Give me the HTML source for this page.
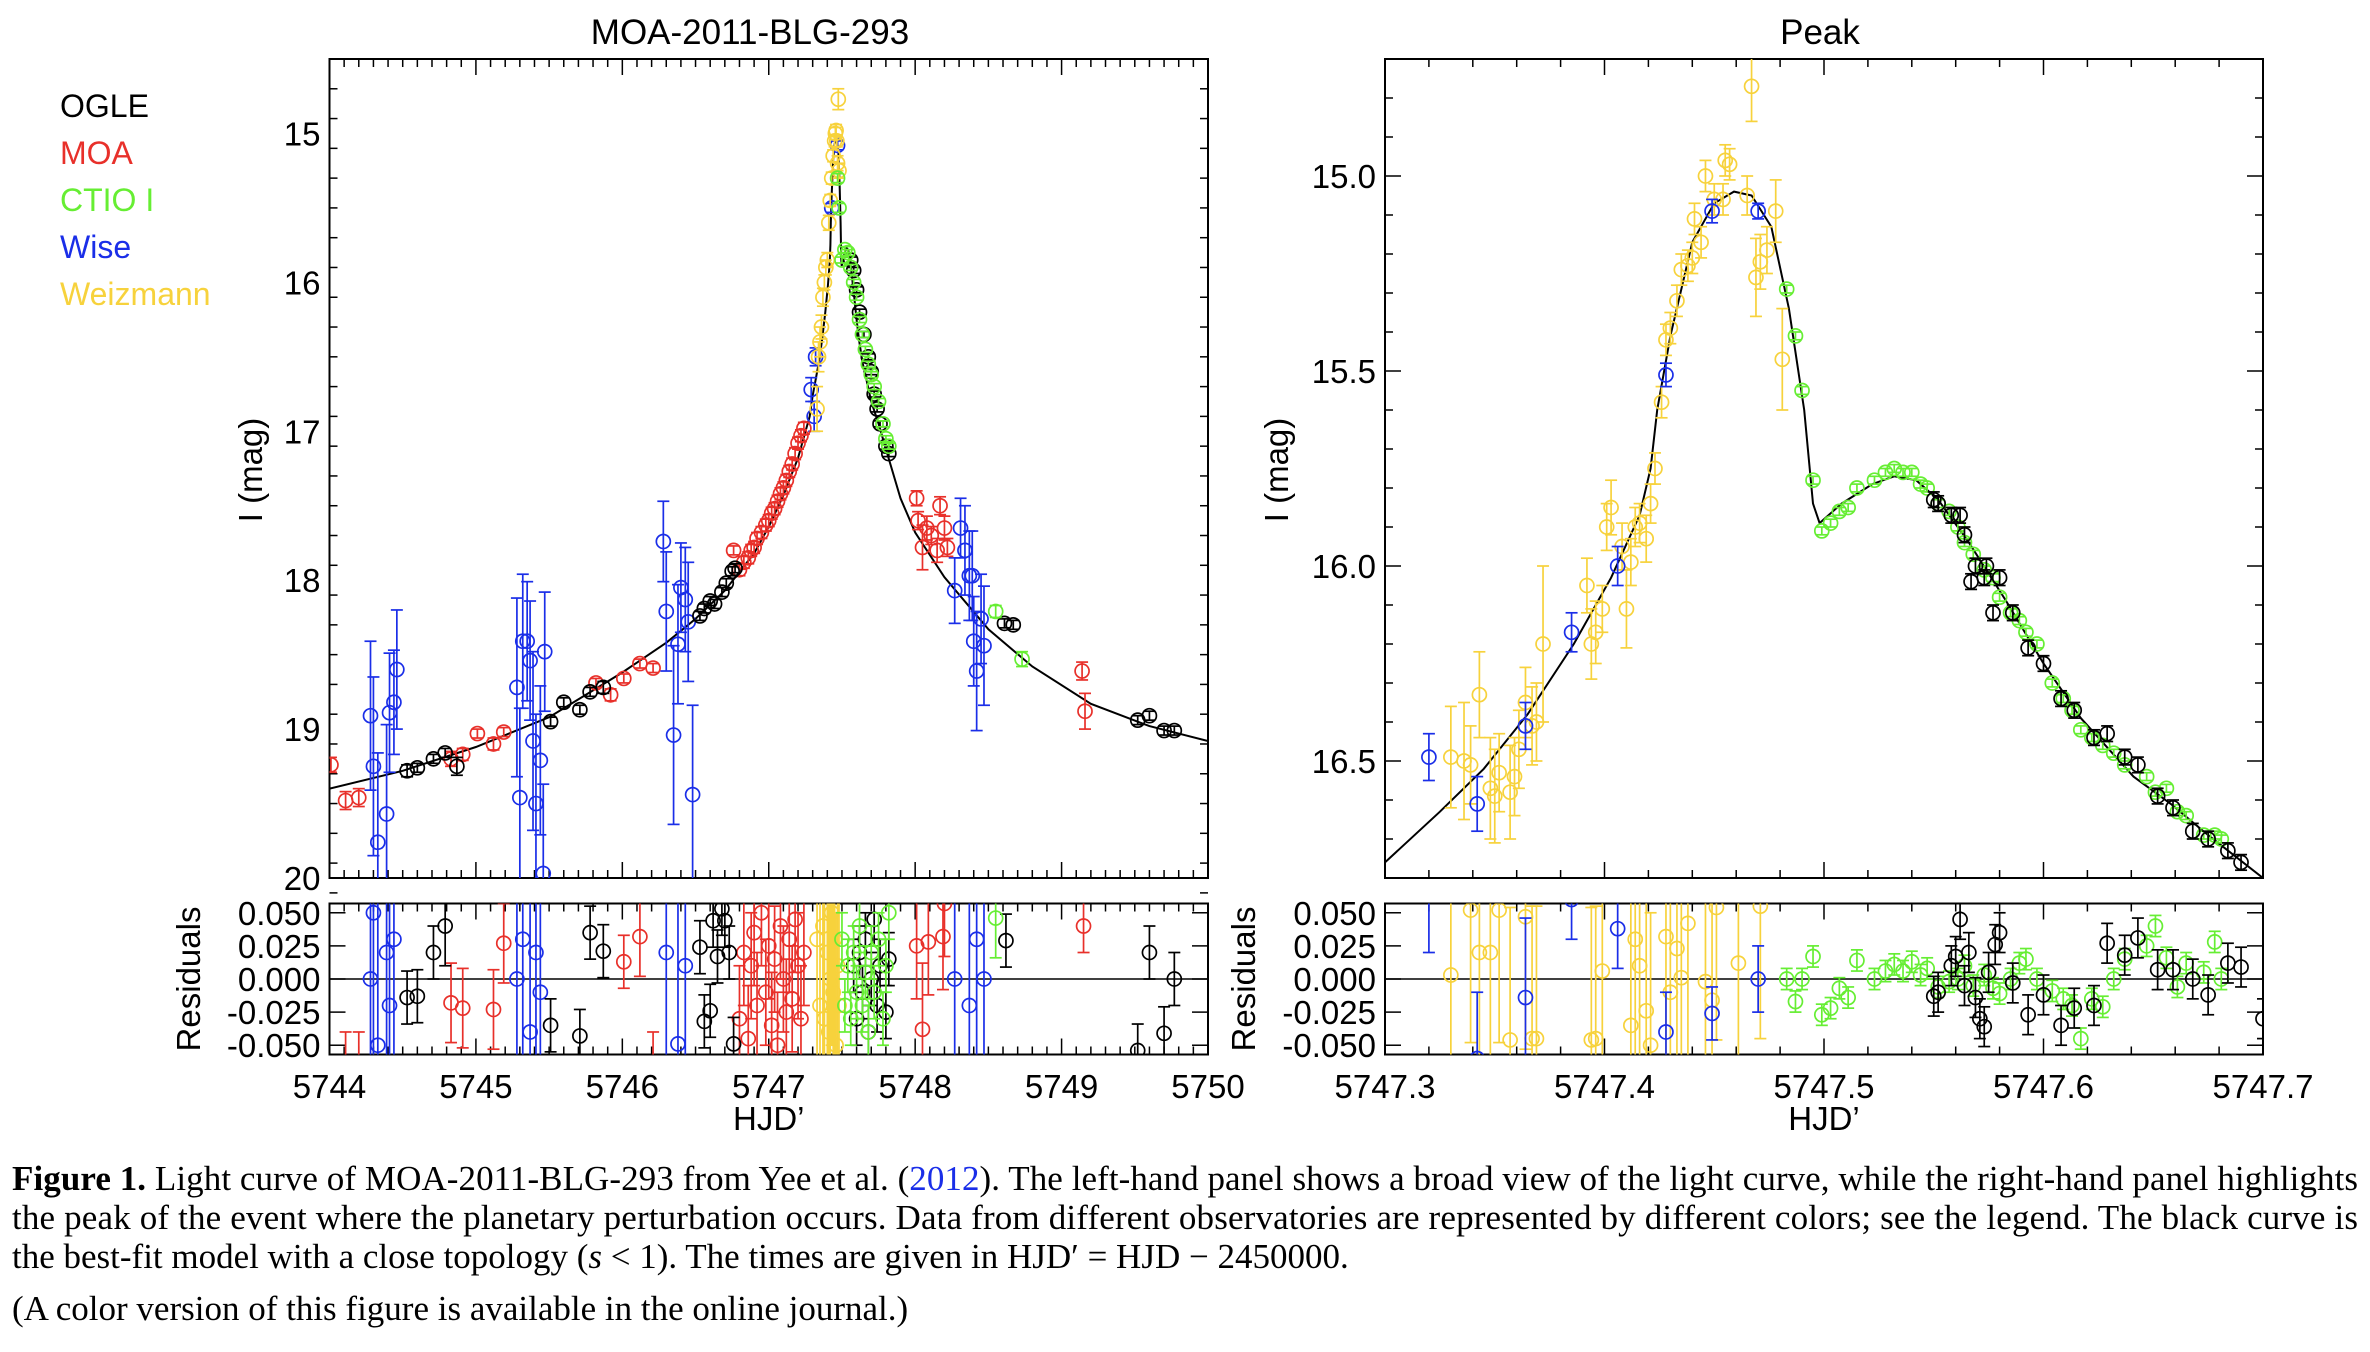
<!DOCTYPE html>
<html><head><meta charset="utf-8"><style>
html,body{margin:0;padding:0;background:#fff;width:2370px;height:1352px;overflow:hidden;}
svg{display:block;font-family:"Liberation Sans",sans-serif;}
</style></head><body>
<svg id="fig" width="2370" height="1352" viewBox="0 0 2370 1352" xmlns="http://www.w3.org/2000/svg">
<defs>
<clipPath id="clipLM"><rect x="329.5" y="59" width="878.5" height="819"/></clipPath>
<clipPath id="clipLR"><rect x="329.5" y="903.5" width="878.5" height="151"/></clipPath>
<clipPath id="clipRM"><rect x="1385" y="59" width="878" height="819"/></clipPath>
<clipPath id="clipRR"><rect x="1385" y="903.5" width="878" height="151"/></clipPath>
</defs>
<g id="legend" font-size="32">
<text x="60" y="117" fill="#000">OGLE</text>
<text x="60" y="164" fill="#e8302a">MOA</text>
<text x="60" y="211" fill="#66ee33">CTIO I</text>
<text x="60" y="258" fill="#1a2ee8">Wise</text>
<text x="60" y="305" fill="#f7d23c">Weizmann</text>
</g>
<text x="750" y="44" font-size="35" text-anchor="middle">MOA-2011-BLG-293</text>
<text x="1820" y="44" font-size="35" text-anchor="middle">Peak</text>
<g id="plots"></g>
<g id="caption" font-family="'Liberation Serif',serif" font-size="35">
<text x="12" y="1190" textLength="2346" lengthAdjust="spacing"><tspan font-weight="bold">Figure 1.</tspan> Light curve of MOA-2011-BLG-293 from Yee et al. (<tspan fill="#1a2ee8">2012</tspan>). The left-hand panel shows a broad view of the light curve, while the right-hand panel highlights</text>
<text x="12" y="1229" textLength="2346" lengthAdjust="spacing">the peak of the event where the planetary perturbation occurs. Data from different observatories are represented by different colors; see the legend. The black curve is</text>
<text x="12" y="1268">the best-fit model with a close topology (<tspan font-style="italic">s</tspan> &lt; 1). The times are given in HJD′ = HJD − 2450000.</text>
<text x="12" y="1320">(A color version of this figure is available in the online journal.)</text>
</g>
</svg>
<script>
const COL = {ogle:"#000000", moa:"#e8302a", ctio:"#66ee33", wise:"#1a2ee8", weiz:"#f7d23c"};
const modelLT = [5744.0,5744.5,5745.0,5745.5,5746.0,5746.3,5746.5,5746.7,5746.9,5747.0,5747.1,5747.2,5747.28];
const modelLM = [19.40,19.28,19.12,18.92,18.62,18.42,18.26,18.07,17.82,17.64,17.43,17.18,16.90];
const modelLT2 = [5747.75,5747.8,5747.9,5748.0,5748.2,5748.5,5748.8,5749.2,5749.6,5750.0];
const modelLM2 = [16.95,17.12,17.45,17.68,17.98,18.33,18.58,18.83,18.98,19.08];
const modelRT = [5747.30,5747.325,5747.345,5747.365,5747.386,5747.403,5747.416,5747.421,5747.424,5747.43,5747.44,5747.45,5747.459,5747.467,5747.476,5747.484,5747.491,5747.495,5747.498,5747.508,5747.522,5747.532,5747.542,5747.552,5747.566,5747.583,5747.60,5747.617,5747.641,5747.658,5747.675,5747.70];
const modelRM = [16.76,16.63,16.52,16.38,16.20,16.03,15.87,15.75,15.60,15.41,15.17,15.07,15.04,15.05,15.13,15.34,15.60,15.84,15.89,15.84,15.79,15.77,15.78,15.83,15.94,16.09,16.25,16.39,16.54,16.61,16.69,16.80];

const ogleL = [[5744.53,19.28,.04],[5744.60,19.26,.03],[5744.71,19.20,.03],[5744.79,19.16,.03],[5744.87,19.25,.06],[5745.51,18.95,.03],[5745.60,18.82,.03],[5745.71,18.87,.03],[5745.78,18.75,.03],[5745.87,18.72,.04],[5746.53,18.24,.03],[5746.56,18.19,.03],[5746.60,18.14,.03],[5746.63,18.16,.03],[5746.68,18.08,.03],[5746.71,18.02,.03],[5746.75,17.94,.03],[5746.77,17.92,.03],[5747.56,15.85,.02],[5747.58,15.92,.02],[5747.60,16.05,.02],[5747.62,16.20,.02],[5747.65,16.35,.02],[5747.68,16.50,.02],[5747.70,16.60,.02],[5747.72,16.75,.02],[5747.74,16.85,.02],[5747.76,16.95,.02],[5747.80,17.10,.02],[5747.82,17.15,.02],[5748.61,18.29,.03],[5748.67,18.30,.03],[5749.52,18.94,.03],[5749.60,18.91,.03],[5749.70,19.01,.03],[5749.77,19.01,.03]];
const moaL = [[5744.01,19.24,.05],[5744.11,19.48,.06],[5744.20,19.46,.06],[5744.83,19.20,.05],[5744.91,19.17,.04],[5745.01,19.03,.03],[5745.12,19.10,.04],[5745.19,19.02,.03],[5745.82,18.69,.03],[5745.92,18.77,.04],[5746.01,18.66,.03],[5746.12,18.56,.03],[5746.21,18.59,.03],[5746.76,17.80,.03],[5746.80,17.93,.04],[5746.83,17.88,.04],[5746.86,17.85,.04],[5746.88,17.80,.04],[5746.90,17.78,.04],[5746.92,17.72,.04],[5746.95,17.68,.04],[5746.98,17.63,.04],[5747.00,17.60,.04],[5747.02,17.55,.04],[5747.04,17.52,.04],[5747.06,17.47,.04],[5747.08,17.42,.04],[5747.10,17.38,.04],[5747.12,17.33,.04],[5747.14,17.27,.04],[5747.16,17.22,.04],[5747.18,17.15,.04],[5747.20,17.08,.04],[5747.22,17.03,.04],[5747.24,16.98,.04],[5748.01,17.45,.05],[5748.02,17.60,.06],[5748.05,17.78,.15],[5748.08,17.65,.08],[5748.11,17.70,.06],[5748.15,17.80,.08],[5748.17,17.50,.06],[5748.20,17.65,.08],[5748.22,17.78,.06],[5749.14,18.61,.06],[5749.16,18.88,.12]];
const ctioL = [[5747.47,15.30,.03],[5747.48,15.50,.03],[5747.50,15.85,.02],[5747.52,15.78,.02],[5747.54,15.80,.02],[5747.56,15.90,.02],[5747.58,16.00,.02],[5747.60,16.10,.02],[5747.62,16.25,.02],[5747.64,16.35,.02],[5747.66,16.45,.02],[5747.68,16.55,.02],[5747.70,16.62,.02],[5747.72,16.70,.02],[5747.75,16.80,.02],[5747.78,16.95,.02],[5747.80,17.05,.02],[5747.82,17.10,.02],[5748.55,18.21,.04],[5748.73,18.53,.05]];
const wiseL = [[5744.28,18.91,.5],[5744.30,19.25,.6],[5744.33,19.76,.6],[5744.39,19.57,.6],[5744.41,18.89,.4],[5744.44,18.82,.35],[5744.46,18.60,.4],[5745.28,18.72,.6],[5745.30,19.46,.6],[5745.32,18.41,.45],[5745.35,18.41,.4],[5745.37,18.54,.4],[5745.39,19.08,.6],[5745.41,19.50,.6],[5745.44,19.21,.5],[5745.46,19.97,.6],[5745.47,18.48,.4],[5746.28,17.74,.27],[5746.30,18.21,.4],[5746.35,19.04,.6],[5746.38,18.43,.4],[5746.40,18.05,.3],[5746.43,18.13,.35],[5746.45,18.28,.4],[5746.48,19.44,.6],[5747.29,16.72,.08],[5747.31,16.90,.1],[5747.32,16.50,.06],[5747.43,15.50,.03],[5747.47,15.08,.03],[5748.27,18.07,.22],[5748.31,17.65,.2],[5748.34,17.80,.3],[5748.37,17.97,.3],[5748.39,17.97,.3],[5748.40,18.41,.3],[5748.42,18.61,.4],[5748.45,18.26,.3],[5748.47,18.44,.4]];
const weizL = [[5747.33,16.85,.15],[5747.34,16.50,.1],[5747.35,16.40,.1],[5747.36,16.30,.08],[5747.37,16.10,.06],[5747.38,16.00,.05],[5747.39,15.90,.05],[5747.40,15.85,.05],[5747.41,15.60,.05],[5747.42,15.45,.04],[5747.43,15.30,.04],[5747.44,15.15,.04],[5747.45,15.05,.04],[5747.455,15.00,.04],[5747.46,14.98,.04],[5747.465,15.05,.04],[5747.47,15.20,.05],[5747.475,14.77,.07],[5747.48,15.25,.05]];
const ogleLR = [[5744.53,-.014,.02],[5744.60,-.013,.02],[5744.71,.020,.02],[5744.79,.040,.03],[5745.51,-.035,.02],[5745.71,-.043,.02],[5745.78,.035,.02],[5745.87,.021,.02],[5746.53,.024,.02],[5746.56,-.032,.02],[5746.60,-.024,.02],[5746.62,.044,.02],[5746.65,.017,.02],[5746.68,.053,.02],[5746.70,.044,.02],[5746.73,.020,.02],[5746.76,-.049,.02],[5747.58,.01,.02],[5747.60,-.03,.02],[5747.62,.02,.02],[5747.64,-.01,.02],[5747.66,.03,.02],[5747.68,-.04,.02],[5747.70,.0,.02],[5747.72,.045,.02],[5747.74,-.02,.02],[5747.76,.01,.02],[5747.80,-.025,.02],[5747.82,.015,.02],[5748.62,.029,.02],[5749.52,-.054,.02],[5749.60,.020,.02],[5749.70,-.041,.02],[5749.77,.0,.02]];
const moaLR = [[5744.11,-.07,.03],[5744.20,-.07,.03],[5744.83,-.018,.03],[5744.91,-.022,.03],[5745.12,-.023,.03],[5745.19,.027,.03],[5746.01,.013,.02],[5746.12,.032,.03],[5746.21,-.07,.03],[5746.80,-.03,.04],[5746.83,.02,.04],[5746.86,-.045,.04],[5746.88,.01,.04],[5746.90,.035,.04],[5746.92,-.02,.04],[5746.95,.05,.04],[5746.98,-.01,.04],[5747.00,.025,.04],[5747.02,-.035,.04],[5747.04,.015,.04],[5747.06,-.05,.04],[5747.08,.04,.04],[5747.10,.0,.04],[5747.12,-.025,.04],[5747.14,.03,.04],[5747.16,-.015,.04],[5747.18,.045,.04],[5747.20,.01,.04],[5747.22,-.03,.04],[5747.24,.02,.04],[5748.01,.025,.04],[5748.05,-.038,.05],[5748.09,.028,.04],[5748.19,.032,.04],[5748.20,.057,.04],[5749.15,.04,.02]];
const ctioLR = [[5747.50,.03,.02],[5747.52,-.02,.02],[5747.54,.01,.02],[5747.56,-.03,.02],[5747.58,.02,.02],[5747.60,-.01,.02],[5747.62,.04,.02],[5747.64,-.02,.02],[5747.66,.005,.02],[5747.68,-.04,.02],[5747.70,.02,.02],[5747.72,-.01,.02],[5747.75,.03,.02],[5747.78,-.03,.02],[5747.80,.01,.02],[5747.82,.05,.02],[5748.55,.046,.03]];
const wiseLR = [[5744.28,.0,.3],[5744.30,.05,.3],[5744.33,-.05,.3],[5744.39,.02,.3],[5744.41,-.02,.3],[5744.44,.03,.3],[5745.28,.0,.3],[5745.32,.03,.3],[5745.37,-.04,.3],[5745.41,.02,.3],[5745.44,-.01,.3],[5746.30,.02,.3],[5746.38,-.049,.3],[5746.43,.01,.3],[5748.27,.0,.3],[5748.37,-.02,.3],[5748.42,.03,.3],[5748.47,.0,.3]];
const weizLR = [[5747.33,.03,.1],[5747.35,-.02,.1],[5747.37,.04,.1],[5747.38,-.03,.1],[5747.40,.02,.1],[5747.41,-.04,.1],[5747.42,.0,.1],[5747.43,.05,.1],[5747.44,-.01,.1],[5747.45,.03,.1],[5747.46,-.05,.1],[5747.47,.01,.1],[5747.48,-.02,.1]];

const weizR = [[5747.330,16.49,.13],[5747.336,16.50,.15],[5747.339,16.51,.1],[5747.343,16.33,.11],[5747.348,16.57,.13],[5747.350,16.59,.12],[5747.352,16.53,.1],[5747.357,16.58,.12],[5747.359,16.54,.1],[5747.361,16.47,.1],[5747.364,16.35,.09],[5747.367,16.41,.1],[5747.369,16.40,.1],[5747.372,16.20,.2],[5747.392,16.05,.07],[5747.394,16.20,.09],[5747.396,16.17,.08],[5747.399,16.11,.06],[5747.401,15.90,.06],[5747.403,15.85,.07],[5747.408,15.95,.06],[5747.410,16.11,.1],[5747.412,15.99,.06],[5747.414,15.90,.05],[5747.416,15.89,.05],[5747.419,15.93,.06],[5747.421,15.84,.05],[5747.423,15.75,.04],[5747.426,15.58,.04],[5747.428,15.42,.04],[5747.430,15.39,.04],[5747.433,15.32,.04],[5747.435,15.24,.04],[5747.438,15.23,.04],[5747.440,15.21,.04],[5747.441,15.11,.04],[5747.444,15.17,.04],[5747.446,15.00,.04],[5747.450,15.06,.04],[5747.454,15.06,.04],[5747.455,14.96,.04],[5747.457,14.97,.04],[5747.465,15.05,.05],[5747.467,14.77,.09],[5747.469,15.26,.1],[5747.471,15.22,.07],[5747.474,15.19,.06],[5747.478,15.09,.08],[5747.481,15.47,.13]];
const wiseR = [[5747.320,16.49,.06],[5747.342,16.61,.07],[5747.364,16.41,.06],[5747.385,16.17,.05],[5747.406,16.00,.05],[5747.428,15.51,.03],[5747.449,15.09,.03],[5747.470,15.09,.02]];
const ctioR = [[5747.483,15.29,.01],[5747.487,15.41,.01],[5747.490,15.55,.01],[5747.495,15.78,.01],[5747.499,15.91,.01],[5747.503,15.89,.01],[5747.507,15.86,.01],[5747.511,15.85,.01],[5747.515,15.80,.01],[5747.523,15.78,.01],[5747.528,15.76,.01],[5747.532,15.75,.01],[5747.536,15.76,.01],[5747.540,15.76,.01],[5747.544,15.79,.01],[5747.547,15.80,.01],[5747.552,15.84,.01],[5747.557,15.86,.01],[5747.561,15.90,.01],[5747.564,15.94,.01],[5747.568,15.97,.01],[5747.573,16.01,.01],[5747.577,16.03,.01],[5747.580,16.08,.01],[5747.585,16.12,.01],[5747.589,16.14,.01],[5747.592,16.17,.01],[5747.597,16.20,.01],[5747.604,16.30,.01],[5747.609,16.34,.01],[5747.613,16.37,.01],[5747.617,16.42,.01],[5747.622,16.44,.01],[5747.627,16.46,.01],[5747.632,16.48,.01],[5747.637,16.51,.01],[5747.647,16.54,.01],[5747.651,16.58,.01],[5747.656,16.57,.01],[5747.661,16.63,.01],[5747.665,16.64,.01],[5747.673,16.69,.01],[5747.678,16.69,.01],[5747.681,16.70,.01]];
const ogleR = [[5747.550,15.83,.02],[5747.552,15.84,.02],[5747.558,15.87,.02],[5747.562,15.87,.02],[5747.564,15.92,.02],[5747.567,16.04,.02],[5747.569,16.00,.02],[5747.573,16.03,.02],[5747.574,16.00,.02],[5747.577,16.12,.02],[5747.580,16.03,.02],[5747.586,16.12,.02],[5747.593,16.21,.02],[5747.600,16.25,.02],[5747.608,16.34,.02],[5747.614,16.37,.02],[5747.623,16.44,.02],[5747.629,16.43,.02],[5747.637,16.49,.02],[5747.643,16.51,.02],[5747.652,16.59,.02],[5747.659,16.62,.02],[5747.668,16.68,.02],[5747.675,16.70,.02],[5747.684,16.73,.02],[5747.690,16.76,.02]];
const weizRR = [[5747.330,.003,.1],[5747.339,.052,.1],[5747.343,.02,.1],[5747.348,.02,.1],[5747.352,.052,.1],[5747.357,-.046,.1],[5747.364,.047,.1],[5747.367,-.045,.1],[5747.369,-.045,.1],[5747.394,-.046,.1],[5747.396,-.045,.1],[5747.399,.006,.1],[5747.412,-.035,.1],[5747.414,.03,.1],[5747.416,.01,.1],[5747.419,-.024,.1],[5747.421,-.05,.1],[5747.428,.032,.1],[5747.430,-.01,.1],[5747.433,.023,.1],[5747.435,.001,.1],[5747.438,.042,.1],[5747.446,-.002,.1],[5747.449,-.016,.1],[5747.451,.054,.1],[5747.461,.012,.1],[5747.471,.055,.1]];
const wiseRR = [[5747.320,.07,.05],[5747.342,-.06,.05],[5747.364,-.014,.06],[5747.385,.06,.03],[5747.406,.038,.03],[5747.428,-.04,.03],[5747.449,-.026,.02],[5747.470,.0,.025]];
const ctioRR = [[5747.483,.0,.008],[5747.487,-.017,.008],[5747.490,.0,.008],[5747.495,.017,.008],[5747.499,-.027,.008],[5747.503,-.022,.008],[5747.507,-.007,.008],[5747.511,-.014,.008],[5747.515,.014,.008],[5747.523,.0,.008],[5747.528,.006,.008],[5747.532,.011,.008],[5747.536,.006,.008],[5747.540,.013,.008],[5747.544,.003,.008],[5747.547,.008,.008],[5747.552,-.006,.008],[5747.557,-.002,.008],[5747.561,.0,.008],[5747.564,.01,.008],[5747.568,-.005,.008],[5747.573,.003,.008],[5747.577,-.007,.008],[5747.580,-.011,.008],[5747.585,.0,.008],[5747.589,.012,.008],[5747.592,.015,.008],[5747.597,.0,.008],[5747.604,-.009,.008],[5747.609,-.015,.008],[5747.613,-.02,.008],[5747.617,-.045,.008],[5747.622,-.015,.008],[5747.627,-.021,.008],[5747.632,.0,.008],[5747.637,.015,.008],[5747.647,.025,.008],[5747.651,.04,.008],[5747.656,.016,.008],[5747.661,-.006,.008],[5747.665,.012,.008],[5747.673,.005,.008],[5747.678,.028,.008],[5747.681,.0,.008]];
const ogleRR = [[5747.550,-.013,.015],[5747.552,-.01,.015],[5747.558,.01,.015],[5747.560,.017,.015],[5747.562,.045,.015],[5747.564,-.005,.015],[5747.566,.02,.015],[5747.569,-.014,.015],[5747.571,-.03,.015],[5747.573,-.036,.015],[5747.575,.005,.015],[5747.578,.026,.015],[5747.580,.035,.015],[5747.586,-.003,.015],[5747.593,-.027,.015],[5747.600,-.012,.015],[5747.608,-.035,.015],[5747.614,-.022,.015],[5747.623,-.02,.015],[5747.629,.027,.015],[5747.637,.018,.015],[5747.643,.031,.015],[5747.652,.007,.015],[5747.659,.007,.015],[5747.668,.0,.015],[5747.675,-.012,.015],[5747.684,.012,.015],[5747.690,.009,.015],[5747.700,-.03,.015]];

const ticksLX = [5744,5745,5746,5747,5748,5749,5750];
const ticksLY = [15,16,17,18,19,20];
const ticksRX = [5747.3,5747.4,5747.5,5747.6,5747.7];
const ticksRY = [15.0,15.5,16.0,16.5];
const ticksRes = [0.05,0.025,0,-0.025,-0.05];

const NS="http://www.w3.org/2000/svg";
const root=document.getElementById('plots');
function mk(tag,attrs,parent){const e=document.createElementNS(NS,tag);for(const k in attrs)e.setAttribute(k,attrs[k]);(parent||root).appendChild(e);return e;}

function panel(P){
  const g=mk('g',{});
  
  
  const sx=t=>P.x0+(t-P.t0)/(P.t1-P.t0)*(P.x1-P.x0);
  const sy=m=>P.y0+(m-P.m0)/(P.m1-P.m0)*(P.y1-P.y0);
  const ry=r=>P.ry0+(P.r0-r)/(P.r0-P.r1)*(P.ry1-P.ry0);
  const f1=mk('rect',{x:P.x0,y:P.y0,width:P.x1-P.x0,height:P.y1-P.y0,fill:'none',stroke:'#000','stroke-width':2},g);
  
  
  const f2=mk('rect',{x:P.x0,y:P.ry0,width:P.x1-P.x0,height:P.ry1-P.ry0,fill:'none',stroke:'#000','stroke-width':2},g);
  
  
  const nmin=Math.round((P.t1-P.t0)/P.xminor);
  for(let i=0;i<=nmin;i++){
    const t=P.t0+i*P.xminor, X=sx(t);
    const major=Math.abs((t-P.t0)/P.xmajor-Math.round((t-P.t0)/P.xmajor))<1e-6;
    const L=major?16:8;
    for(const [a,b] of [[P.y0,P.y1],[P.ry0,P.ry1]]){
      mk('line',{x1:X,x2:X,y1:b,y2:b-L,stroke:'#000','stroke-width':1.5},g);
      mk('line',{x1:X,x2:X,y1:a,y2:a+L,stroke:'#000','stroke-width':1.5},g);
    }
  }
  P.xt.forEach(t=>{const e=mk('text',{x:sx(t),y:1098,'font-size':33,'text-anchor':'middle'},g);e.textContent=P.xfmt(t);
    
    });
  const ny=Math.round((P.m1-P.m0)/P.yminor);
  for(let i=0;i<=ny;i++){
    const m=P.m0+i*P.yminor;const Y=sy(m);
    const q=m/P.ymajor;const major=Math.abs(q-Math.round(q))<1e-6;const L=major?16:8;
    mk('line',{x1:P.x0,x2:P.x0+L,y1:Y,y2:Y,stroke:'#000','stroke-width':1.5},g);
    mk('line',{x1:P.x1,x2:P.x1-L,y1:Y,y2:Y,stroke:'#000','stroke-width':1.5},g);
  }
  P.yt.forEach(m=>{const e=mk('text',{x:P.x0-9,y:sy(m)+12,'font-size':33,'text-anchor':'end'},g);e.textContent=P.yfmt(m);
    
    });
  ticksRes.forEach(r=>{const Y=ry(r);
    mk('line',{x1:P.x0,x2:P.x0+16,y1:Y,y2:Y,stroke:'#000','stroke-width':1.5},g);
    mk('line',{x1:P.x1,x2:P.x1-16,y1:Y,y2:Y,stroke:'#000','stroke-width':1.5},g);
    const e=mk('text',{x:P.x0-9,y:Y+12,'font-size':33,'text-anchor':'end'},g);e.textContent=r.toFixed(3);
    
    });
  mk('line',{x1:P.x0,x2:P.x1,y1:ry(0),y2:ry(0),stroke:'#000','stroke-width':1.5},g);
  let e=mk('text',{x:(P.x0+P.x1)/2,y:1130,'font-size':33,'text-anchor':'middle'},g);e.textContent='HJD’';
  
  
  e=mk('text',{x:0,y:0,'font-size':33,'text-anchor':'middle',transform:`translate(${P.ylx},470) rotate(-90)`},g);e.textContent='I (mag)';
  
  
  e=mk('text',{x:0,y:0,'font-size':33,'text-anchor':'middle',transform:`translate(${P.rlx},979) rotate(-90)`},g);e.textContent='Residuals';
  
  
  const gm=mk('g',{'clip-path':`url(#${P.clipM})`},g);
  const pts=P.mt.map((t,i)=>sx(t).toFixed(1)+','+sy(P.mm[i]).toFixed(1)).join(' ');
  const pl=mk('polyline',{points:pts,fill:'none',stroke:'#000','stroke-width':2},gm);
  
  
  const gr=mk('g',{'clip-path':`url(#${P.clipR})`},g);
  function series(data,col,name,grp,fy){
    const sg=mk('g',{stroke:col,fill:'none','stroke-width':1.7},grp);
    
    
    data.forEach(d=>{
      const X=sx(d[0]),Y=fy(d[1]),Ya=fy(d[1]-d[2]),Yb=fy(d[1]+d[2]);
      mk('line',{x1:X,x2:X,y1:Ya,y2:Yb},sg);
      mk('line',{x1:X-6,x2:X+6,y1:Ya,y2:Ya},sg);
      mk('line',{x1:X-6,x2:X+6,y1:Yb,y2:Yb},sg);
      const c=mk('circle',{cx:X,cy:Y,r:7},sg);
      
      
    });
  }
  P.series.forEach(s=>{series(s[0],s[2],s[3],gm,sy);series(s[1],s[2],s[3]+'-residual',gr,ry);});
}

const lt=modelLT.concat(modelRT.filter(t=>t>5747.28&&t<5747.75),modelLT2);
const lm=modelLM.concat(modelRM.filter((m,i)=>modelRT[i]>5747.28&&modelRT[i]<5747.75),modelLM2);

panel({name:'left-panel',x0:329.5,x1:1208,t0:5744,t1:5750,y0:59,y1:878,m0:14.5,m1:20,ry0:903.5,ry1:1054.5,r0:0.057,r1:-0.057,
  xminor:0.1,xmajor:1,yminor:0.2,ymajor:1,xt:ticksLX,yt:ticksLY,xfmt:t=>String(t),yfmt:m=>String(m),
  ylx:262,rlx:200,clipM:'clipLM',clipR:'clipLR',mt:lt,mm:lm,
  series:[[wiseL,wiseLR,COL.wise,'wise-series'],[moaL,moaLR,COL.moa,'moa-series'],[ogleL,ogleLR,COL.ogle,'ogle-series'],[weizL,weizLR,COL.weiz,'weizmann-series'],[ctioL,ctioLR,COL.ctio,'ctio-series']]});
panel({name:'peak-panel',x0:1385,x1:2263,t0:5747.3,t1:5747.7,y0:59,y1:878,m0:14.7,m1:16.8,ry0:903.5,ry1:1054.5,r0:0.057,r1:-0.057,
  xminor:0.02,xmajor:0.1,yminor:0.1,ymajor:0.5,xt:ticksRX,yt:ticksRY,xfmt:t=>t.toFixed(1),yfmt:m=>m.toFixed(1),
  ylx:1288,rlx:1255,clipM:'clipRM',clipR:'clipRR',mt:modelRT,mm:modelRM,
  series:[[weizR,weizRR,COL.weiz,'weizmann-series'],[ctioR,ctioRR,COL.ctio,'ctio-series'],[ogleR,ogleRR,COL.ogle,'ogle-series'],[wiseR,wiseRR,COL.wise,'wise-series']]});
</script>
</body></html>
